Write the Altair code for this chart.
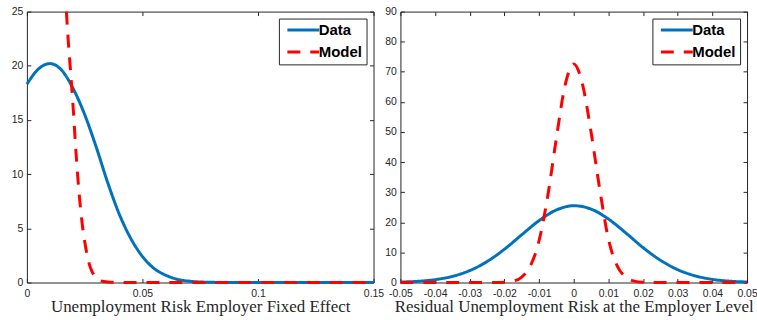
import altair as alt
import pandas as pd

# ---- Employer fixed effect densities (left panel) ----
fe_data_x = [0.0, 0.005, 0.01, 0.015, 0.02, 0.025, 0.03, 0.035, 0.04, 0.045,
             0.05, 0.055, 0.06, 0.065, 0.07, 0.075, 0.08, 0.085, 0.15]
fe_data_y = [18.3, 19.7, 20.2, 19.6, 17.9, 15.5, 12.5, 9.2, 6.3, 4.05,
             2.4, 1.3, 0.68, 0.3, 0.13, 0.05, 0.02, 0.0, 0.0]
fe_model_x = [0.0171, 0.018, 0.019, 0.02, 0.021, 0.022, 0.023, 0.024, 0.025,
              0.026, 0.027, 0.028, 0.029, 0.03, 0.032, 0.035, 0.04, 0.045, 0.15]
fe_model_y = [25.0, 22.0, 19.2, 16.2, 12.8, 9.8, 7.3, 5.3, 3.8,
              2.6, 1.7, 1.1, 0.7, 0.4, 0.15, 0.05, 0.01, 0.0, 0.0]

# ---- Residual risk densities (right panel) ----
res_data_x = [-0.05, -0.045, -0.04, -0.035, -0.03, -0.025, -0.02, -0.015, -0.01, -0.005,
              0.0, 0.005, 0.01, 0.015, 0.02, 0.025, 0.03, 0.035, 0.04, 0.045, 0.05]
res_data_y = [0.15, 0.40, 0.95, 2.04, 3.96, 6.96, 11.05, 15.86, 20.56, 24.1,
              25.5, 24.4, 21.1, 16.5, 11.6, 7.4, 4.26, 2.22, 1.04, 0.44, 0.17]
res_model_x = [-0.05, -0.025, -0.0225, -0.02, -0.0175, -0.015, -0.0125, -0.01, -0.0075,
               -0.005, -0.0025, 0.0, 0.0025, 0.005, 0.0075, 0.01, 0.0125, 0.015,
               0.0175, 0.02, 0.0225, 0.025, 0.05]
res_model_y = [0.0, 0.0, 0.02, 0.1, 0.46, 1.8, 5.5, 13.9, 28.7,
               48.0, 65.5, 72.6, 66.0, 50.0, 31.0, 14.5, 5.6, 1.8,
               0.46, 0.1, 0.02, 0.0, 0.0]

# ---- Axis tick values ----
fe_x_ticks = [0, 0.05, 0.1, 0.15]
fe_y_ticks = [0, 5, 10, 15, 20, 25]
res_x_ticks = [-0.05, -0.04, -0.03, -0.02, -0.01, 0, 0.01, 0.02, 0.03, 0.04, 0.05]
res_y_ticks = [0, 10, 20, 30, 40, 50, 60, 70, 80, 90]

SERIES = ["Data", "Model"]
BLUE = "#0072BD"
RED = "#FF0000"
AXIS_GREY = "#262626"


def frame(data_x, data_y, model_x, model_y):
    return pd.concat([
        pd.DataFrame({"x": data_x, "y": data_y, "series": "Data"}),
        pd.DataFrame({"x": model_x, "y": model_y, "series": "Model"}),
    ], ignore_index=True)


def legend():
    # a long horizontal stroke as the legend key, kept short in height
    return alt.Legend(
        title=None, orient="top-right", offset=7,
        fillColor="white", strokeColor=AXIS_GREY, padding=4,
        labelFont="Liberation Sans", labelFontWeight="bold",
        labelFontSize=15, labelColor="black", labelOffset=8,
        symbolType="M-5,0H5", symbolSize=41, symbolOffset=13,
        symbolStrokeWidth=3, rowPadding=6, cornerRadius=0,
    )


def panel(df, x_dom, y_dom, x_ticks, y_ticks, x_title):
    xs = alt.Scale(domain=x_dom, nice=False, zero=False)
    ys = alt.Scale(domain=y_dom, nice=False)

    lines = alt.Chart(df).mark_line(strokeWidth=3, interpolate="monotone").encode(
        x=alt.X("x:Q", scale=xs, axis=alt.Axis(
            values=x_ticks, title=x_title, ticks=False, domain=False, grid=False,
            labelExpr="datum.value + ''", labelFlush=False, labelOverlap=False,
            labelPadding=6, titlePadding=0)),
        y=alt.Y("y:Q", scale=ys, axis=alt.Axis(
            values=y_ticks, title=None, ticks=False, domain=False, grid=False,
            labelFlush=False, labelOverlap=False, labelPadding=4)),
        color=alt.Color("series:N", sort=SERIES,
                        scale=alt.Scale(domain=SERIES, range=[BLUE, RED]),
                        legend=legend()),
        strokeDash=alt.StrokeDash("series:N", sort=SERIES,
                                  scale=alt.Scale(domain=SERIES, range=[[1, 0], [13, 10]]),
                                  legend=legend()),
    )

    # inward tick marks on all four sides of the box
    def tick_layer(x_orient, y_orient):
        return alt.Chart(df).mark_line(opacity=0).encode(
            x=alt.X("x:Q", scale=xs, axis=alt.Axis(
                values=x_ticks, orient=x_orient, offset=-4, tickSize=4,
                labels=False, domain=False, grid=False, title=None)),
            y=alt.Y("y:Q", scale=ys, axis=alt.Axis(
                values=y_ticks, orient=y_orient, offset=-4, tickSize=4,
                labels=False, domain=False, grid=False, title=None)),
        )

    return alt.layer(
        lines, tick_layer("bottom", "left"), tick_layer("top", "right")
    ).resolve_axis(x="independent", y="independent").properties(width=348, height=272)


left = panel(frame(fe_data_x, fe_data_y, fe_model_x, fe_model_y),
             [0, 0.15], [0, 25], fe_x_ticks, fe_y_ticks,
             "Unemployment Risk Employer Fixed Effect")
right = panel(frame(res_data_x, res_data_y, res_model_x, res_model_y),
              [-0.05, 0.05], [0, 90], res_x_ticks, res_y_ticks,
              "Residual Unemployment Risk at the Employer Level")

chart = alt.hconcat(left, right, spacing=27).resolve_scale(
    color="independent", strokeDash="independent"
).resolve_legend(
    color="independent", strokeDash="independent"
).properties(
    bounds="flush",
    padding={"left": 10, "top": 4, "right": -1, "bottom": 0},
    background="white",
).configure_axis(
    labelFont="Liberation Sans", labelFontSize=10.5, labelColor=AXIS_GREY,
    tickColor=AXIS_GREY, tickWidth=1,
    titleFont="Liberation Serif", titleFontSize=17, titleFontWeight="normal",
    titleColor=AXIS_GREY,
).configure_view(stroke=AXIS_GREY, strokeWidth=1)

chart.save("out.html", embed_options={"renderer": "svg", "actions": False})
